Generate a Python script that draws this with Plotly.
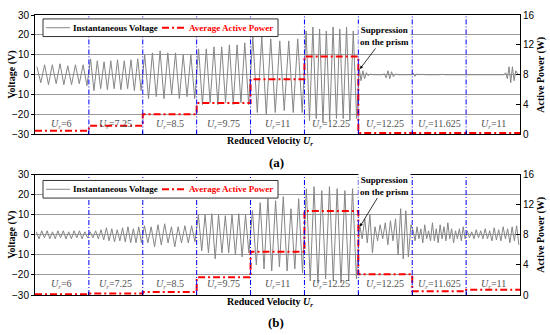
import plotly.graph_objects as go

# ---------------- data ----------------
seg_labels = ["6", "7.25", "8.5", "9.75", "11", "12.25", "12.25", "11.625", "11"]

# Panel (a): voltage extrema (V) read per segment
volt_a = [
    [4, -4, 5, -5, 5, -4.5, 5.5, -5, 4.5, -5, 5, -4.5, 5, -5.5],
    [8, -8, 7, -7, 6.5, -7.5, 7, -7, 7.5, -7.5, 7, -7, 7.5, -8, 8, -8],
    [10, -12, 11, -11, 12, -12, 11, -10, 11, -12, 10, -11, 10, -12],
    [13, -15, 13, -14, 14, -15, 14, -14, 15, -15, 15, -14, 16, -15],
    [19, -19, 19, -20, 18, -19, 17, -18, 17, -19, 18, -19],
    [22, -23, 24, -22, 23, -24, 22, -23, 24, -22, 23, -22, 24, -23, 22, -22],
    [3, -3, 2, -2, 1, -0.5, 0.3, 0, 0, 0, 0, 0, 0, 0, 0.5, -1.5, 2, -2, 1.5, -1,
     0.3, 0, 0, 0, 0, 0, 0, 0, 0, 0],
    [0.8, -0.8, 0.3, 0, 0, 0.2, 0, 0, 0, 0, -0.3, 0, 0, 0, 0, 0, 0.2, 0, 0, 0,
     0, 0, -0.2, 0, 0, 0, 0, 0, 0, 0],
    [0, 0, 0, 0, 0, 0, 0, 0, 0, 0, 0, 0, 0, 0, 0, 0, 0, 0, 0, 0, 0, 0, 0,
     1, -2, 4, -4, 4, -3, 2, 0.5, 0],
]
# Panel (a): average active power (W)
power_a = [0.5, 1.15, 2.7, 4.2, 7.4, 10.45, 0.2, 0.2, 0.2]

# Panel (b): voltage extrema (V)
volt_b = [
    [1.5, -2, 2, -1.5, 2, -2, 1.5, -2, 2, -1.5, 2, -2, 1.5, -2, 2, -1.5, 2, -2, 1.5, -1.5],
    [1.5, -1.5, 2, -2, 2.5, -2.5, 3.5, -3, 3, -3.5, 2.5, -3, 3.5, -3.5, 4, -4, 3, -4, 4, -4],
    [4.5, -4, 4, -6, 5, -5, 5.5, -4, 4, -6, 4, -4, 4.5, -4, 4.5, -3.5],
    [10, -8, 10, -9, 10.5, -12, 10, -9, 9.5, -9, 10, -10, 10.5, -11, 10, -9],
    [12, -15, 16, -17, 18, -18, 17, -16, 19, -18, 13, -17, 18, -19],
    [23, -23, 24, -24, 22, -22, 24, -23, 23, -24, 22, -23, 23, -22],
    [5, -2, 8, -4, 10, -9, 4, -3, 5, -2, 6, -5, 7, -3, 8, -10, 13, -12, 12, -11, 5],
    [2, -3, 4, -2, 3, -4, 5, -2, 2, -3, 6, -3, 3, -4, 5, -2, 4, -3, 6, -2, 3, -4,
     2, -2, 3, -3, 4, -2],
    [2, -1.5, 1.5, -2, 2.5, -1.5, 2, -2, 3, -2, 2, -3, 3.5, -2.5, 2.5, -3, 4, -2,
     3, -4, 4, -3, 4.5, -5],
]
power_b = [0.1, 0.2, 0.4, 2.35, 5.75, 11.15, 2.75, 0.5, 0.7]

volt_ticks = [-30, -20, -10, 0, 10, 20, 30]
power_ticks = [0, 4, 8, 12, 16]
legend_names = ["Instantaneous Voltage", "Average Active Power"]

# ---------------- figure ----------------
SERIF = "Liberation Serif"
SANS = "Liberation Sans"
GRAY = "#858585"
RED = "#ff0000"
RED_DASH = "7px,3px,2px,3px"
fig = go.Figure()


def add_panel(volt, power, xa, ya, ya2):
    xs, ys = [], []
    for k, seg in enumerate(volt):
        n = len(seg)
        for i, v in enumerate(seg):
            xs.append(k + (i + 0.5) / n)
            ys.append(v)
    fig.add_trace(go.Scatter(
        x=xs, y=ys, mode="lines", line=dict(color=GRAY, width=1),
        name=legend_names[0], xaxis=xa, yaxis=ya, showlegend=False,
        hoverinfo="skip"))
    px = list(range(len(power) + 1))
    py = list(power) + [power[-1]]
    fig.add_trace(go.Scatter(
        x=px, y=py, mode="lines",
        line=dict(color=RED, width=2, dash=RED_DASH, shape="hv"),
        name=legend_names[1], xaxis=xa, yaxis=ya2, showlegend=False,
        hoverinfo="skip"))


add_panel(volt_a, power_a, "x", "y", "y2")
add_panel(volt_b, power_b, "x2", "y3", "y4")

n_seg = len(seg_labels)
xcommon = dict(range=[0, n_seg], showticklabels=False, showgrid=False, zeroline=False,
               showline=True, linecolor="black", linewidth=1, mirror=True,
               ticks="inside", ticklen=3, tickcolor="black",
               tickvals=list(range(n_seg + 1)))
ycommon = dict(range=[-30, 30], tickvals=volt_ticks, showgrid=True, gridcolor="#9a9a9a",
               gridwidth=1, zeroline=False, showline=True, linecolor="black", linewidth=1,
               ticks="outside", ticklen=3, tickcolor="black",
               tickfont=dict(family=SANS, size=10, color="black"))
pcommon = dict(range=[0, 16], tickvals=power_ticks, side="right", showgrid=False,
               zeroline=False, showline=True, linecolor="black", linewidth=1,
               ticks="inside", ticklen=4, tickcolor="black",
               tickfont=dict(family=SANS, size=10, color="black"))

dom_a = [0.5734, 1.0]
dom_b = [0.0, 0.430]

fig.update_layout(
    width=550, height=335,
    margin=dict(l=35, r=30, t=9, b=40),
    paper_bgcolor="white", plot_bgcolor="white",
    showlegend=False,
    xaxis=dict(domain=[0, 1], anchor="y", **xcommon),
    yaxis=dict(domain=dom_a, anchor="x", **ycommon),
    yaxis2=dict(overlaying="y", anchor="x", **pcommon),
    xaxis2=dict(domain=[0, 1], anchor="y3", **xcommon),
    yaxis3=dict(domain=dom_b, anchor="x2", **ycommon),
    yaxis4=dict(overlaying="y3", anchor="x2", **pcommon),
)

# helpers: pixel -> paper fraction (plot area: x 35..520, y 9..295)
def fx(px):
    return (px - 35) / 485.0


def fy(py):
    return (295 - py) / 286.0


shapes = []
for xr, yr in (("x", "y domain"), ("x2", "y3 domain")):
    for k in range(1, n_seg):
        shapes.append(dict(type="line", xref=xr, yref=yr, x0=k, x1=k, y0=0, y1=1,
                           layer="above",
                           line=dict(color="#0000ff", width=1, dash="5px,2px,1px,2px")))

ann = []
# hand-drawn legend boxes (one per panel)
for top in (13, 178):
    shapes.append(dict(type="rect", xref="paper", yref="paper", layer="above",
                       x0=fx(43), x1=fx(278), y0=fy(top + 18), y1=fy(top),
                       line=dict(color="#333333", width=1), fillcolor="white"))
    ym = fy(top + 9)
    shapes.append(dict(type="line", xref="paper", yref="paper", layer="above",
                       x0=fx(46), x1=fx(70), y0=ym, y1=ym,
                       line=dict(color=GRAY, width=1)))
    shapes.append(dict(type="line", xref="paper", yref="paper", layer="above",
                       x0=fx(162), x1=fx(185), y0=ym, y1=ym,
                       line=dict(color=RED, width=2, dash=RED_DASH)))
    ann.append(dict(x=fx(71), y=ym, xref="paper", yref="paper", showarrow=False,
                    xanchor="left", yanchor="middle", text="<b>" + legend_names[0] + "</b>",
                    font=dict(family=SERIF, size=9, color="black")))
    ann.append(dict(x=fx(187), y=ym, xref="paper", yref="paper", showarrow=False,
                    xanchor="left", yanchor="middle", text="<b>" + legend_names[1] + "</b>",
                    font=dict(family=SERIF, size=9, color=RED)))
fig.update_layout(shapes=shapes)

for xr, yr in (("x", "y"), ("x2", "y3")):
    for k, lab in enumerate(seg_labels):
        ann.append(dict(x=k + 0.5, y=-25, xref=xr, yref=yr, showarrow=False,
                        text="<i>U</i><sub><i>r</i></sub>=" + lab,
                        font=dict(family=SERIF, size=10, color="#505050")))

ann.append(dict(x=6.03, y=2.9, xref="x", yref="y", ax=25, ay=-33,
                text="<b>Suppression<br>on the prism</b>", showarrow=True,
                arrowhead=2, arrowsize=0.8, arrowwidth=0.8, arrowcolor="black",
                font=dict(family=SERIF, size=9, color="black"), bgcolor="white"))
ann.append(dict(x=6.03, y=4.1, xref="x2", yref="y3", ax=25, ay=-41,
                text="<b>Suppression<br>on the prism</b>", showarrow=True,
                arrowhead=2, arrowsize=0.8, arrowwidth=0.8, arrowcolor="black",
                font=dict(family=SERIF, size=9, color="black"), bgcolor="white"))

title_font = dict(family=SERIF, size=10, color="black")
for ytitle, ylab, ypanel, plab in ((fy(138), fy(160), (dom_a[0] + dom_a[1]) / 2, "(a)"),
                                   (fy(303), fy(323), (dom_b[0] + dom_b[1]) / 2, "(b)")):
    ann.append(dict(x=fx(270), y=ytitle, xref="paper", yref="paper", showarrow=False,
                    text="<b>Reduced Velocity <i>U</i><sub><i>r</i></sub></b>",
                    font=title_font, xanchor="center", yanchor="middle"))
    ann.append(dict(x=fx(276), y=ylab, xref="paper", yref="paper", showarrow=False,
                    text="<b>" + plab + "</b>",
                    font=dict(family=SERIF, size=13, color="black"),
                    xanchor="center", yanchor="middle"))
    ann.append(dict(x=fx(12), y=ypanel, xref="paper", yref="paper", showarrow=False,
                    text="<b>Voltage (V)</b>", textangle=-90, font=title_font,
                    xanchor="center", yanchor="middle"))
    ann.append(dict(x=fx(541), y=ypanel, xref="paper", yref="paper", showarrow=False,
                    text="<b>Active Power (W)</b>", textangle=-90, font=title_font,
                    xanchor="center", yanchor="middle"))
fig.update_layout(annotations=ann)

fig.write_html("out.html", config={"displayModeBar": False},
               post_script="document.body.style.margin='0';document.body.style.padding='0';")
